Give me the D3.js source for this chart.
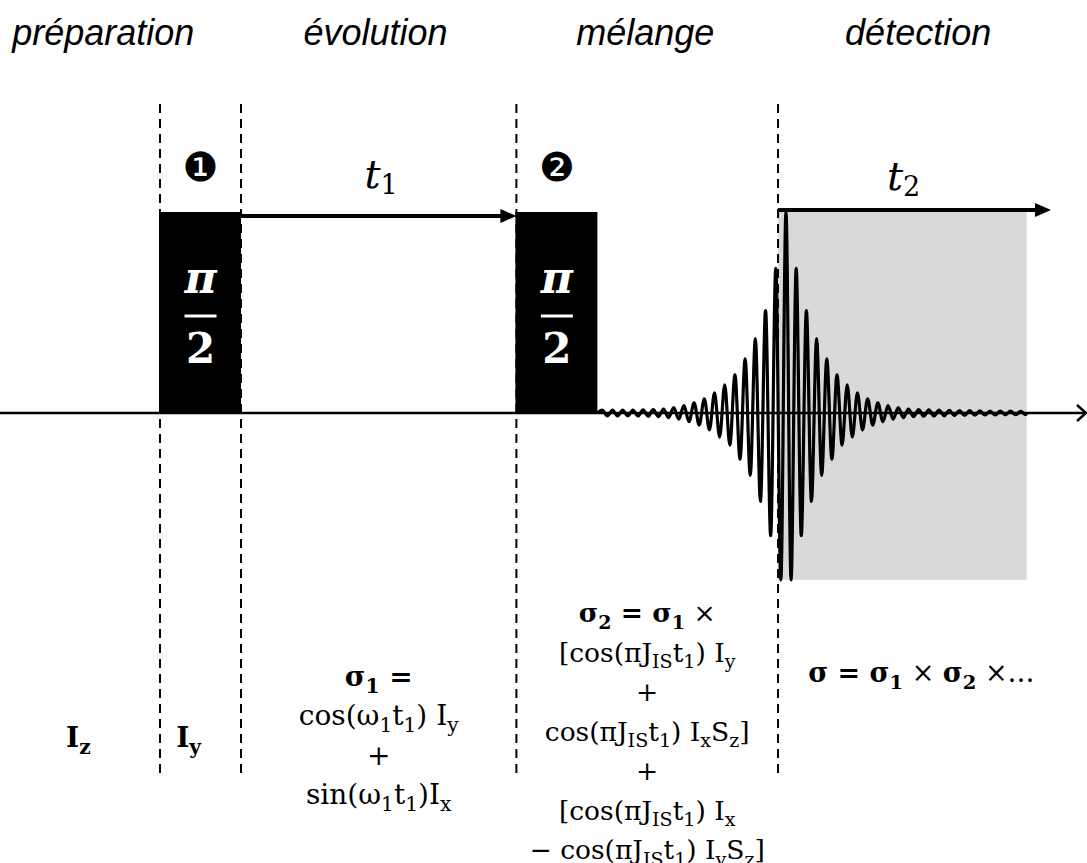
<!DOCTYPE html>
<html>
<head>
<meta charset="utf-8">
<script src="https://cdn.jsdelivr.net/npm/d3@7/dist/d3.min.js"></script>
<style>
  html, body { margin: 0; padding: 0; background: #fff; }
  svg { display: block; }
</style>
</head>
<body>
<svg id="chart" width="1087" height="863"></svg>
<script>
// ---------------- DATA ----------------
// time axis in units of one pulse length
const phaseLabels = ["préparation", "évolution", "mélange", "détection"];
const phaseLabelT = [-0.70, 2.66, 5.99, 9.36];
const phaseBounds = [0, 1, 4.4, 7.63];           // dashed separators
const pulseStarts = [0, 4.4];
const pulseEnds = [1, 5.4];
const pulseMarks = ["\u2776", "\u2777"];
const pulseHeight = 1;
const t1Span = [1, 4.4];
const t2Span = [7.63, 11.0];
const t1LabelT = 2.73;
const t2LabelT = 9.18;
const acqWindow = [7.63, 10.7];
const acqRange = [-0.83, 1];
const fidStart = 5.46;
const fidStep = 0.063;
const fidExtrema = [
  0.015, -0.015, 0.015, -0.015, 0.015, -0.015, 0.015, -0.015, 0.016, -0.016,
  0.017, -0.018, 0.020, -0.023, 0.027, -0.031, 0.037, -0.043, 0.051, -0.060,
  0.071, -0.084, 0.10, -0.12, 0.14, -0.16, 0.19, -0.23, 0.27, -0.31,
  0.37, -0.44, 0.51, -0.61, 0.72, -0.83, 1.00, -0.83, 0.72, -0.61,
  0.51, -0.44, 0.37, -0.31, 0.27, -0.23, 0.19, -0.16, 0.14, -0.12,
  0.10, -0.084, 0.071, -0.060, 0.051, -0.043, 0.037, -0.031, 0.027, -0.023,
  0.020, -0.018, 0.017, -0.016, 0.016, -0.015, 0.014, -0.014, 0.013, -0.013,
  0.012, -0.012, 0.012, -0.011, 0.011, -0.010, 0.010, -0.010, 0.009, -0.009,
  0.009, -0.008, 0.008, -0.008
];
// density-operator formulas: [text, flags]  b=bold, s=subscript
const stateIz = [[["I","b"],["z","bs"]]];
const stateIy = [[["I","b"],["y","bs"]]];
const sigma1Lines = [
  [["σ","b"],["1","bs"],[" =","b"]],
  [["cos(ω"],["1","s"],["t"],["1","s"],[") I"],["y","s"]],
  [["+"]],
  [["sin(ω"],["1","s"],["t"],["1","s"],[")I"],["x","s"]]
];
const sigma2Lines = [
  [["σ","b"],["2","bs"],[" = σ","b"],["1","bs"],[" ×"]],
  [["[cos(πJ"],["IS","s"],["t"],["1","s"],[") I"],["y","s"]],
  [["+"]],
  [["cos(πJ"],["IS","s"],["t"],["1","s"],[") I"],["x","s"],["S"],["z","s"],["]"]],
  [["+"]],
  [["[cos(πJ"],["IS","s"],["t"],["1","s"],[") I"],["x","s"]],
  [["− cos(πJ"],["IS","s"],["t"],["1","s"],[") I"],["y","s"],["S"],["z","s"],["]"]]
];
const sigmaLines = [
  [["σ = σ","b"],["1","bs"],[" × "],["σ","b"],["2","bs"],[" ×…"]]
];
const stateT = [-1.16, 0.2, 2.7, 6.015, 9.4];

// ---------------- SCALES ----------------
const x = d3.scaleLinear().domain([0, 1]).range([160, 241]);
const y = d3.scaleLinear().domain([0, 1]).range([413, 212]);

const svg = d3.select("#chart");
const serif = "'DejaVu Serif', 'Liberation Serif', serif";

// acquisition window
svg.append("rect")
  .attr("x", x(acqWindow[0])).attr("width", x(acqWindow[1]) - x(acqWindow[0]))
  .attr("y", y(acqRange[1])).attr("height", y(acqRange[0]) - y(acqRange[1]))
  .attr("fill", "#d9d9d9");

// dashed separators
svg.selectAll("line.sep").data(phaseBounds).join("line")
  .attr("class", "sep")
  .attr("x1", d => x(d)).attr("x2", d => x(d))
  .attr("y1", 104).attr("y2", 777)
  .attr("stroke", "#000").attr("stroke-width", 2)
  .attr("stroke-dasharray", "9,6");

// pulses
const pulses = pulseStarts.map((s, i) => ({ s, e: pulseEnds[i], m: pulseMarks[i] }));
svg.selectAll("rect.pulse").data(pulses).join("rect")
  .attr("class", "pulse")
  .attr("x", d => x(d.s) - 1).attr("width", d => x(d.e) - x(d.s) + 1)
  .attr("y", y(pulseHeight)).attr("height", y(0) - y(pulseHeight))
  .attr("fill", "#000");

pulses.forEach(d => {
  const cx = (x(d.s) + x(d.e)) / 2;
  svg.append("text").attr("x", cx).attr("y", 293)
    .attr("text-anchor", "middle").attr("font-family", serif)
    .attr("font-size", 44).attr("font-weight", "bold").attr("font-style", "italic")
    .attr("fill", "#fff").text("π");
  svg.append("line").attr("x1", cx - 16).attr("x2", cx + 16)
    .attr("y1", 316).attr("y2", 316).attr("stroke", "#fff").attr("stroke-width", 3);
  svg.append("text").attr("x", cx).attr("y", 363)
    .attr("text-anchor", "middle").attr("font-family", serif)
    .attr("font-size", 42).attr("font-weight", "bold")
    .attr("fill", "#fff").text("2");
  svg.append("text").attr("x", cx).attr("y", 181)
    .attr("text-anchor", "middle").attr("font-family", "'DejaVu Sans', sans-serif")
    .attr("font-size", 40).attr("fill", "#000").text(d.m);
});

// baseline (time axis) with open arrow
svg.append("line").attr("x1", 0).attr("x2", 1085)
  .attr("y1", y(0)).attr("y2", y(0))
  .attr("stroke", "#000").attr("stroke-width", 2.6);
svg.append("path")
  .attr("d", `M1077,${y(0) - 8} L1086,${y(0)} L1077,${y(0) + 8}`)
  .attr("fill", "none").attr("stroke", "#000").attr("stroke-width", 2.6);

// FID / echo
const fidPts = [[x(pulseEnds[1]), y(0)]]
  .concat(fidExtrema.map((a, i) => [x(fidStart + i * fidStep), y(a)]))
  .concat([[x(acqWindow[1]), y(0)]]);
svg.append("path")
  .attr("d", d3.line().curve(d3.curveMonotoneX)(fidPts))
  .attr("fill", "none").attr("stroke", "#000").attr("stroke-width", 3.2)
  .attr("stroke-linejoin", "round");

// time arrows
function arrow(t0, t1, yy) {
  const xa = x(t0), xb = x(t1);
  svg.append("line").attr("x1", xa).attr("x2", xb - 12)
    .attr("y1", yy).attr("y2", yy).attr("stroke", "#000").attr("stroke-width", 4);
  svg.append("path").attr("d", `M${xb},${yy} L${xb - 16},${yy - 7} L${xb - 16},${yy + 7} Z`)
    .attr("fill", "#000");
}
arrow(t1Span[0], t1Span[1], 216);
arrow(t2Span[0], t2Span[1], 210);

function timeLabel(t, sub, base) {
  const tx = svg.append("text").attr("x", x(t)).attr("y", base)
    .attr("text-anchor", "middle").attr("font-family", serif).attr("fill", "#000");
  tx.append("tspan").attr("font-size", 40).attr("font-style", "italic").text("t");
  tx.append("tspan").attr("font-size", 27).attr("dy", 6).text(sub);
}
timeLabel(t1LabelT, "1", 188);
timeLabel(t2LabelT, "2", 190);

// phase labels
svg.selectAll("text.phase").data(phaseLabels).join("text")
  .attr("class", "phase")
  .attr("x", (d, i) => x(phaseLabelT[i])).attr("y", 45)
  .attr("text-anchor", "middle")
  .attr("font-family", "'Liberation Sans', Arial, sans-serif")
  .attr("font-style", "italic").attr("font-size", 36).attr("fill", "#000")
  .text(d => d);

// formulas
function drawFormula(lines, cx, y0, step, fs, anchor) {
  lines.forEach((segs, li) => {
    const t = svg.append("text").attr("x", cx).attr("y", y0 + li * step)
      .attr("text-anchor", anchor).attr("font-family", serif)
      .attr("font-size", fs).attr("fill", "#000");
    let shifted = 0;
    segs.forEach(([txt, fl = ""]) => {
      const sub = fl.includes("s"), bold = fl.includes("b");
      const target = sub ? fs * 0.25 : 0;
      t.append("tspan").text(txt)
        .attr("dy", target - shifted)
        .attr("font-size", sub ? fs * 0.72 : fs)
        .attr("font-weight", bold ? "bold" : "normal");
      shifted = target;
    });
  });
}
drawFormula(stateIz, x(stateT[0]), 747, 0, 28, "start");
drawFormula(stateIy, x(stateT[1]), 747, 0, 28, "start");
drawFormula(sigma1Lines, x(stateT[2]), 686, 39.3, 28, "middle");
drawFormula(sigma2Lines, x(stateT[3]), 622, 39.5, 26.5, "middle");
drawFormula(sigmaLines, x(stateT[4]), 682, 0, 27, "middle");
</script>
</body>
</html>
